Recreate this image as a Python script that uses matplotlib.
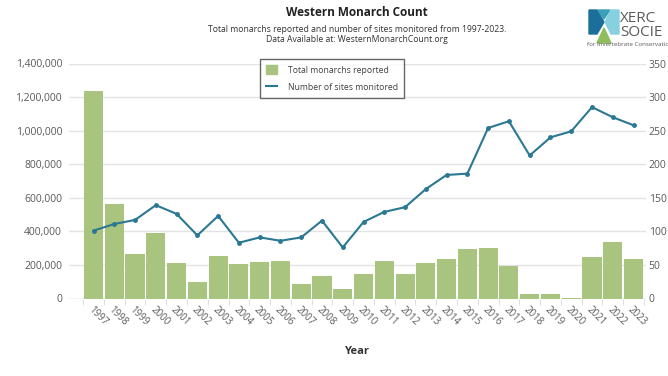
import matplotlib
matplotlib.use("Agg")
import matplotlib.pyplot as plt
from matplotlib.patches import Polygon
from matplotlib.lines import Line2D
from matplotlib.patches import Patch
import numpy as np

plt.rcParams['font.family'] = ['Open Sans', 'DejaVu Sans']

## western monarch thanksgiving count, 1997-2023
years = [str(y) for y in range(1997, 2024)]
monarchs = [1235490, 564349, 267574, 390057, 209570, 99353, 254378, 205085,
            218679, 221058, 86437, 131889, 58468, 143204, 222525, 144812,
            211275, 234731, 292888, 298464, 192624, 27218, 29418, 1899,
            247237, 335479, 233394]
sites = [101, 111, 117, 139, 126, 94, 123, 83, 91, 86, 91, 116, 76, 114,
         129, 136, 163, 184, 186, 254, 264, 213, 240, 249, 285, 270, 258]

bar_color = '#a8c47e'
line_color = '#2b7892'
text_color = '#595959'

fig = plt.figure(figsize=(6.68, 3.76), dpi=100)
W, H = 668, 376
ax = fig.add_axes([69 / W, 1 - 298.5 / H, 577 / W, 235 / H])

x = np.arange(len(years))
ax.bar(x, monarchs, width=0.92, color=bar_color, zorder=2, label='Total monarchs reported')
ax.set_xlim(-1.18, 26.6)
ax.set_ylim(0, 1400000)
ax.set_yticks(np.arange(0, 1400001, 200000))
ax.set_yticklabels([f"{v:,}" for v in range(0, 1400001, 200000)])
ax.grid(axis='y', color='#e3e3e3', linewidth=1, zorder=0)
for s in ['top', 'right', 'left', 'bottom']:
    ax.spines[s].set_visible(False)
ax.tick_params(axis='y', length=0, pad=5, labelsize=7.5, labelcolor=text_color)

# year labels under each bar, little gray ticks between categories
ax.set_xticks(x)
ax.set_xticklabels(years, rotation=-45, ha='left', va='top', rotation_mode='anchor')
ax.tick_params(axis='x', length=0, pad=4, labelsize=7, labelcolor=text_color)
ax.set_xticks(np.arange(-0.5, 26.6, 1), minor=True)
ax.tick_params(axis='x', which='minor', length=4, color='#d9d9d9')
ax.axhline(0, color='#d9d9d9', linewidth=1, zorder=1)

ax2 = ax.twinx()
ax2.plot(x, sites, color=line_color, linewidth=1.5, marker='o', markersize=2.5, zorder=3)
ax2.set_ylim(0, 350)
ax2.set_yticks(np.arange(0, 351, 50))
for s in ['top', 'right', 'left', 'bottom']:
    ax2.spines[s].set_visible(False)
ax2.tick_params(axis='y', length=0, pad=2, labelsize=7.5, labelcolor=text_color)

handles = [Patch(color=bar_color), Line2D([0], [0], color=line_color, linewidth=1.5)]
leg = ax.legend(handles, ['Total monarchs reported', 'Number of sites monitored'],
                loc='upper left', bbox_to_anchor=((260 - 69) / 577, (298.5 - 59) / 235),
                fontsize=6.2, frameon=True, fancybox=False, edgecolor='#404040',
                handlelength=1.3, handleheight=1.3, labelspacing=0.9, borderpad=0.7,
                handletextpad=1.2, borderaxespad=0)
leg.get_frame().set_linewidth(1)
for t in leg.get_texts():
    t.set_color('#404040')

fig.text(357 / W, 1 - 12 / H, 'Western Monarch Count', ha='center', va='center',
         fontsize=8.5, fontweight='bold', color='#222222')
fig.text(357 / W, 1 - 29 / H, 'Total monarchs reported and number of sites monitored from 1997-2023.',
         ha='center', va='center', fontsize=6.2, color='#333333')
fig.text(357 / W, 1 - 40 / H, 'Data Available at: WesternMonarchCount.org',
         ha='center', va='center', fontsize=6.2, color='#333333')
fig.text(357 / W, 1 - 351 / H, 'Year', ha='center', va='center',
         fontsize=8, fontweight='bold', color='#333333')

# rough xerces society logo in the corner
logo = fig.add_axes([0, 0, 1, 1], zorder=-1)
logo.set_xlim(0, W)
logo.set_ylim(H, 0)
logo.axis('off')
logo.add_patch(Polygon([(589, 10), (597, 10), (604, 22), (597, 34), (589, 34)], color='#1d6e9a'))
logo.add_patch(Polygon([(598, 10), (610, 10), (604, 19)], color='#3a9fb8'))
logo.add_patch(Polygon([(611, 10), (619, 10), (619, 34), (611, 34), (605, 22)], color='#86d0e0'))
logo.add_patch(Polygon([(604, 28), (611, 43), (597, 43)], color='#8dbd5c'))
logo.text(620, 18, 'XERC', fontsize=11, color='#5a5a5a', va='center', ha='left')
logo.text(620, 32, 'SOCIE', fontsize=11, color='#5a5a5a', va='center', ha='left')
logo.text(587, 45, 'for Invertebrate Conservation', fontsize=4.5, color='#5a5a5a', va='center', ha='left')

fig.savefig('out.png', dpi=100)
